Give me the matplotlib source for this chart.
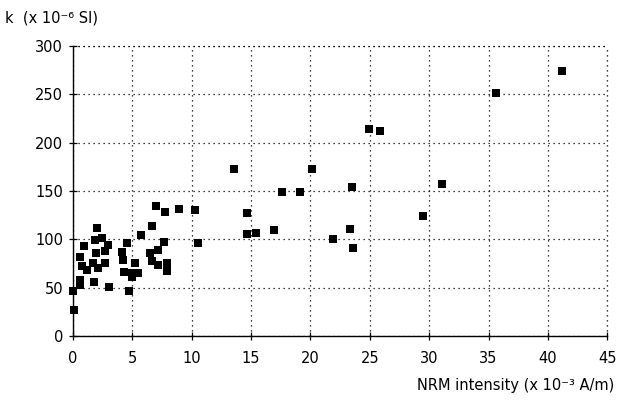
import matplotlib
matplotlib.use("Agg")
import matplotlib.pyplot as plt

nrm = [41.2, 35.6, 24.96, 25.86, 13.6, 20.1, 17.6, 19.15, 23.5, 31.1,
       14.7, 29.5, 14.7, 15.4, 16.9, 23.3, 21.9, 23.6,
       2.06, 0.97, 1.87, 2.48, 3.0, 2.7, 1.93, 0.6, 1.73, 2.7,
       0.75, 1.17, 2.1, 0.6, 0.6, 1.8, 3.07, 0.0, 0.13,
       6.7, 5.74, 7.7, 4.54, 4.1, 7.15, 6.5, 4.25, 6.64, 5.24,
       7.2, 7.9, 4.33, 5.0, 5.5, 4.96, 7.9, 4.73,
       7.0, 7.76, 8.96, 10.3, 10.56]
k = [274, 251.7, 214.4, 212, 172.4, 172.8, 149, 149, 154, 157,
     127, 124, 106, 107, 110, 111, 100, 91,
     111.4, 93, 99.3, 101, 94, 88, 86, 82, 76, 76,
     72, 68, 70, 58, 53, 56, 51, 47, 27,
     114, 104.5, 97.5, 96, 87, 89, 85.5, 79, 78, 76,
     73.4, 75, 66.5, 65.5, 65, 61, 67.5, 46.5,
     135, 128, 131, 130, 96]

xticks = [0, 5, 10, 15, 20, 25, 30, 35, 40, 45]
yticks = [0, 50, 100, 150, 200, 250, 300]

plt.rcParams['font.family'] = ['DejaVu Sans']
fig = plt.figure(figsize=(6.30, 4.09), dpi=100)
ax = fig.add_axes([0.1156, 0.1785, 0.8485, 0.709])
ax.scatter(nrm, k, marker='s', s=40, color='black', linewidths=0, zorder=3, clip_on=False)
ax.set_xlim(0, 45)
ax.set_ylim(0, 300)
ax.set_xticks(xticks)
ax.set_yticks(yticks)
grid_style = dict(linestyle=(0, (1, 3)), color='black', linewidth=0.9)
ax.grid(True, **grid_style)
ax.axvline(xticks[-1], clip_on=False, **grid_style)
ax.axhline(yticks[-1], clip_on=False, **grid_style)
for s in ['top', 'right']:
    ax.spines[s].set_visible(False)
ax.spines['left'].set_linewidth(1.0)
ax.spines['bottom'].set_linewidth(1.0)
ax.tick_params(direction='inout', length=6, width=0.9, labelsize=10.5, colors='black')
ax.tick_params(axis='x', pad=8)
ax.tick_params(axis='y', pad=4)
fig.text(0.008, 0.955, 'k  (x 10⁻⁶ SI)', fontsize=10.5, ha='left', va='center')
fig.text(0.975, 0.058, 'NRM intensity (x 10⁻³ A/m)', fontsize=10.5, ha='right', va='center')
fig.savefig('out.png', dpi=100)
